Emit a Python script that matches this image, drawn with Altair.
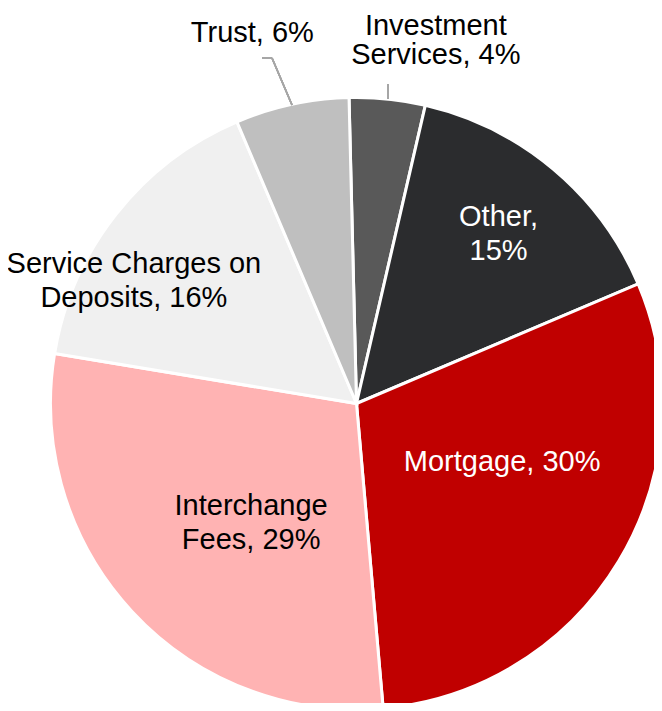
import math
import altair as alt
import pandas as pd

# ---- data ----
categories = ["Investment Services", "Other", "Mortgage", "Interchange Fees",
              "Service Charges on Deposits", "Trust"]
shares = [4, 15, 30, 29, 16, 6]
labels = ["Investment\nServices, 4%", "Other,\n15%", "Mortgage, 30%",
          "Interchange\nFees, 29%", "Service Charges on\nDeposits, 16%", "Trust, 6%"]
slice_colors = ["#595959", "#2b2c2e", "#c00000", "#ffb3b3", "#f0f0f0", "#bfbfbf"]
label_colors = ["#000000", "#ffffff", "#ffffff", "#000000", "#000000", "#000000"]

df = pd.DataFrame({
    "idx": list(range(len(categories))),
    "category": categories,
    "share": shares,
    "label": labels,
})

FONT = "Liberation Sans"
start = math.radians(-1.4)
theta_scale = alt.Scale(domain=[0, 100], range=[start, start + 2 * math.pi])
CX, CY = 348.5, 395.5

arcs = alt.Chart(df).mark_arc(outerRadius=306, stroke="white", strokeWidth=3).encode(
    theta=alt.Theta("share:Q", stack=True, scale=theta_scale),
    order=alt.Order("idx:Q"),
    color=alt.Color("category:N", scale=alt.Scale(domain=categories, range=slice_colors), legend=None),
    x=alt.value(CX), y=alt.value(CY),
)

base = alt.Chart(df).transform_window(
    cum="sum(share)", sort=[alt.SortField("idx")], frame=[None, 0]
).transform_calculate(mid="datum.cum - datum.share / 2")

# label placement: (radius, dx, dy, line height) per slice
placement = {
    "Investment Services": (379, 41, 0, 29),
    "Other": (221, 0, -17, 34),
    "Mortgage": (157, 11, -22, 34),
    "Interchange Fees": (160, 12, -6, 34),
    "Service Charges on Deposits": (254, -23, 18, 34),
    "Trust": (384, -23, 5, 34),
}

texts = []
for cat, col in zip(categories, label_colors):
    r, dx, dy, lh = placement[cat]
    texts.append(
        base.transform_filter(alt.datum.category == cat).mark_text(
            radius=r, dx=dx, dy=dy, font=FONT, fontSize=29, color=col,
            lineBreak="\n", lineHeight=lh, align="center", baseline="middle",
        ).encode(
            theta=alt.Theta("mid:Q", scale=theta_scale),
            text="label:N",
            x=alt.value(CX), y=alt.value(CY),
        )
    )

leader_color = "#a6a6a6"
lead1 = alt.Chart(df).mark_rule(color=leader_color, strokeWidth=1.5).encode(
    x=alt.value(284), y=alt.value(97), x2=alt.value(264), y2=alt.value(50))
lead2 = alt.Chart(df).mark_rule(color=leader_color, strokeWidth=1.5).encode(
    x=alt.value(264), y=alt.value(50), x2=alt.value(254), y2=alt.value(50))
lead3 = alt.Chart(df).mark_rule(color=leader_color, strokeWidth=1.5).encode(
    x=alt.value(380), y=alt.value(76), x2=alt.value(380), y2=alt.value(91))

chart = alt.layer(arcs, *texts, lead1, lead2, lead3).properties(
    width=646, height=695, padding=0, autosize="none", background="white"
).configure_view(strokeWidth=0)

chart.save("out.html", embed_options={"renderer": "svg", "actions": False})
